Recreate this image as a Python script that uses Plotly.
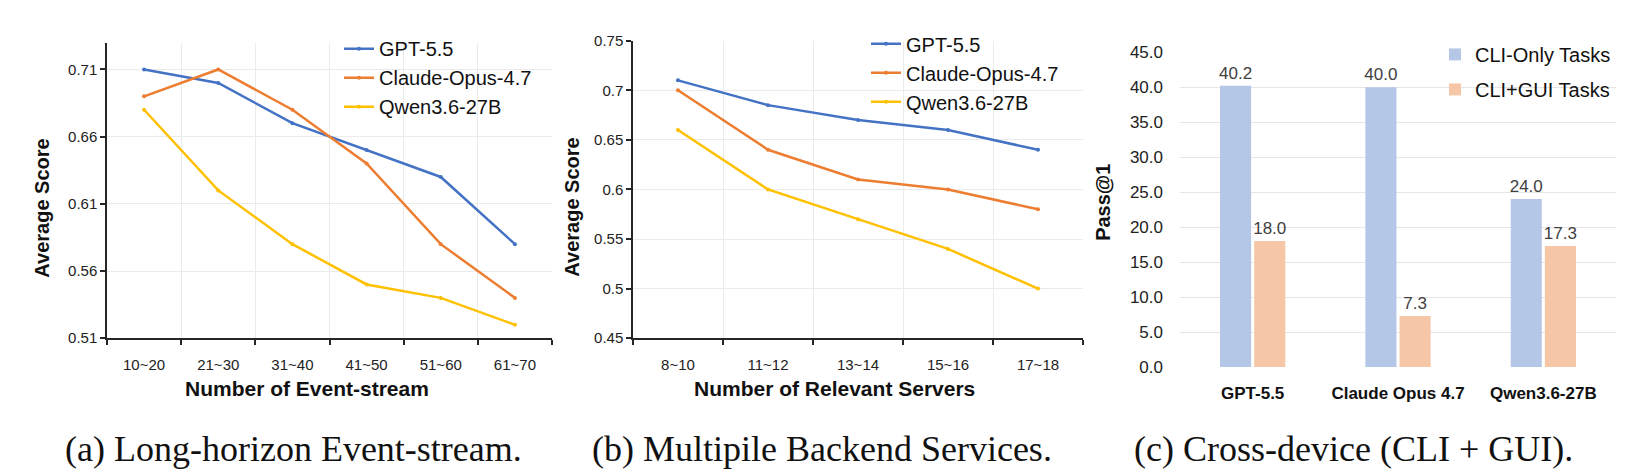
import plotly.graph_objects as go

W, H = 1640, 472

# ---------------- data ----------------
event_cats = ["10~20", "21~30", "31~40", "41~50", "51~60", "61~70"]
event_gpt = [0.71, 0.70, 0.67, 0.65, 0.63, 0.58]
event_claude = [0.69, 0.71, 0.68, 0.64, 0.58, 0.54]
event_qwen = [0.68, 0.62, 0.58, 0.55, 0.54, 0.52]
event_ticks = [0.51, 0.56, 0.61, 0.66, 0.71]
event_ticktext = ["0.51", "0.56", "0.61", "0.66", "0.71"]

server_cats = ["8~10", "11~12", "13~14", "15~16", "17~18"]
server_gpt = [0.71, 0.685, 0.67, 0.66, 0.64]
server_claude = [0.70, 0.64, 0.61, 0.60, 0.58]
server_qwen = [0.66, 0.60, 0.57, 0.54, 0.50]
server_ticks = [0.45, 0.5, 0.55, 0.6, 0.65, 0.7, 0.75]
server_ticktext = ["0.45", "0.5", "0.55", "0.6", "0.65", "0.7", "0.75"]

model_names = ["GPT-5.5", "Claude-Opus-4.7", "Qwen3.6-27B"]
bar_cats = ["GPT-5.5", "Claude Opus 4.7", "Qwen3.6-27B"]
cli_only = [40.2, 40.0, 24.0]
cli_gui = [18.0, 7.3, 17.3]
bar_series = ["CLI-Only Tasks", "CLI+GUI Tasks"]

captions = ["(a) Long-horizon Event-stream.",
            "(b) Multipile Backend Services.",
            "(c) Cross-device (CLI + GUI)."]

# ---------------- style ----------------
LINE_COLORS = ["#4472C4", "#ED7D31", "#FFC000"]
BAR_COLORS = ["#B4C7E7", "#F6C7A6"]
SANS = "Liberation Sans, Arial, sans-serif"
SERIF = "Liberation Serif, Times New Roman, serif"
AXC = "#262626"
GRID = "#EBEBEB"


def px(x):
    return x / W


def py(y):
    return 1 - y / H


fig = go.Figure()

for name, vals, col in zip(model_names, [event_gpt, event_claude, event_qwen], LINE_COLORS):
    fig.add_trace(go.Scatter(x=event_cats, y=vals, name=name, mode="lines+markers",
                             line=dict(color=col, width=2.5), marker=dict(size=4, color=col),
                             xaxis="x", yaxis="y", legend="legend"))

for name, vals, col in zip(model_names, [server_gpt, server_claude, server_qwen], LINE_COLORS):
    fig.add_trace(go.Scatter(x=server_cats, y=vals, name=name, mode="lines+markers",
                             line=dict(color=col, width=2.5), marker=dict(size=4, color=col),
                             xaxis="x2", yaxis="y2", legend="legend2"))

for i, (name, vals, col) in enumerate(zip(bar_series, [cli_only, cli_gui], BAR_COLORS)):
    fig.add_trace(go.Bar(x=bar_cats, y=vals, name=name, marker=dict(color=col, line=dict(width=0)),
                         text=[f"{v:.1f}" for v in vals], textposition="outside",
                         textfont=dict(family=SANS, size=17, color="#404040"),
                         constraintext="none", cliponaxis=False,
                         legendgroup=f"g{i}",
                         xaxis="x3", yaxis="y3", legend="legend3"))

line_x = dict(type="category", showline=True, linecolor=AXC, linewidth=1.5,
              ticks="outside", ticklen=5, tickcolor=AXC, tickwidth=1.5, tickson="boundaries",
              showgrid=True, gridcolor=GRID, gridwidth=1, ticklabelstandoff=12,
              tickfont=dict(family=SANS, size=15, color="#222"))
line_y = dict(showline=True, linecolor=AXC, linewidth=1.5,
              ticks="outside", ticklen=5, tickcolor=AXC, tickwidth=1.5,
              showgrid=True, gridcolor=GRID, gridwidth=1, zeroline=False,
              tickfont=dict(family=SANS, size=15, color="#222"))

fig.update_layout(
    width=W, height=H, margin=dict(l=0, r=0, t=0, b=0),
    paper_bgcolor="white", plot_bgcolor="white",
    bargap=0.53, bargroupgap=0.09, barmode="group",
    xaxis=dict(domain=[px(107), px(552)], anchor="y", range=[-0.5, len(event_cats) - 0.5], **line_x),
    yaxis=dict(domain=[py(343), py(35)], anchor="x", range=[0.51, 0.73],
               tickvals=event_ticks, ticktext=event_ticktext, **line_y),
    xaxis2=dict(domain=[px(633), px(1083)], anchor="y2", range=[-0.5, len(server_cats) - 0.5], **line_x),
    yaxis2=dict(domain=[py(343), py(33)], anchor="x2", range=[0.45, 0.75],
                tickvals=server_ticks, ticktext=server_ticktext, **line_y),
    xaxis3=dict(domain=[px(1180), px(1616)], anchor="y3", type="category",
                showline=False, ticks="", showgrid=False, ticklabelstandoff=14,
                tickfont=dict(family=SANS, size=17, color="#111", weight="bold")),
    yaxis3=dict(domain=[py(373), py(45)], anchor="x3", range=[0, 45], dtick=5, tick0=0,
                tickformat=".1f", showline=False, ticks="", zeroline=False,
                showgrid=True, gridcolor="#E6E6E6", gridwidth=1.2,
                ticklabelstandoff=16,
                tickfont=dict(family=SANS, size=17, color="#222")),
    legend=dict(x=px(339), y=py(21), xanchor="left", yanchor="top",
                font=dict(family=SANS, size=20, color="#111"), bgcolor="rgba(0,0,0,0)",
                itemwidth=30, tracegroupgap=0),
    legend2=dict(x=px(866), y=py(16), xanchor="left", yanchor="top",
                 font=dict(family=SANS, size=20, color="#111"), bgcolor="rgba(0,0,0,0)",
                 itemwidth=30, tracegroupgap=0),
    legend3=dict(x=px(1435), y=py(27), xanchor="left", yanchor="top",
                 font=dict(family=SANS, size=20, color="#111"), bgcolor="rgba(0,0,0,0)",
                 itemwidth=30, tracegroupgap=6, traceorder="grouped"),
    showlegend=True,
)

annots = [
    dict(text="<b>Average Score</b>", x=px(42), y=py(208), textangle=-90, size=20),
    dict(text="<b>Number of Event-stream</b>", x=px(307), y=py(395), textangle=0, size=21),
    dict(text="<b>Average Score</b>", x=px(572), y=py(207), textangle=-90, size=20),
    dict(text="<b>Number of Relevant Servers</b>", x=px(834), y=py(395), textangle=0, size=21),
    dict(text="<b>Pass@1</b>", x=px(1103), y=py(202), textangle=-90, size=20),
]
for a in annots:
    fig.add_annotation(text=a["text"], x=a["x"], y=a["y"], xref="paper", yref="paper",
                       xanchor="center", yanchor="middle", showarrow=False,
                       textangle=a["textangle"], font=dict(family=SANS, size=a["size"], color="#111"))

for cap, cx in zip(captions, [293, 822, 1353]):
    fig.add_annotation(text=cap, x=px(cx), y=py(458), xref="paper", yref="paper",
                       xanchor="center", yanchor="middle", showarrow=False,
                       font=dict(family=SERIF, size=36, color="#111"))

fig.write_html("out.html")
